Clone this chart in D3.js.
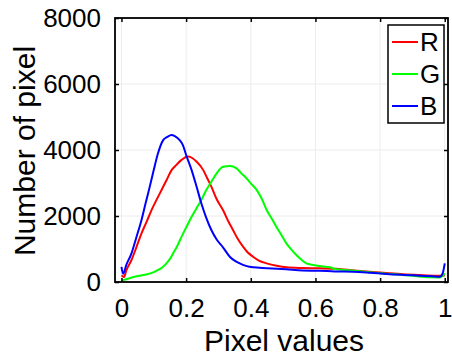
<!DOCTYPE html>
<html><head><meta charset="utf-8">
<script src="https://cdn.jsdelivr.net/npm/d3@7"></script>
<style>body{margin:0;background:#fff}svg{display:block}text{font-family:"Liberation Sans",Arial,sans-serif;fill:#000}</style>
</head><body>
<script>
const xTicks = [0, 0.2, 0.4, 0.6, 0.8, 1];
const xTickLabels = ["0", "0.2", "0.4", "0.6", "0.8", "1"];
const yTicks = [0, 2000, 4000, 6000, 8000];
const yTickLabels = ["0", "2000", "4000", "6000", "8000"];
const seriesNames = ["R", "G", "B"];
const seriesColors = ["#ff0000", "#00ff00", "#0000ff"];

const redX = [0,0.008,0.015,0.031,0.046,0.062,0.078,0.093,0.108,0.124,0.14,0.155,0.17,0.186,0.206,0.22,0.232,0.253,0.265,0.278,0.295,0.314,0.33,0.345,0.36,0.376,0.39,0.407,0.425,0.449,0.48,0.51,0.56,0.613,0.665,0.72,0.768,0.82,0.871,0.92,0.974,1.0];
const redY = [200,150,350,667,1050,1475,1830,2180,2480,2790,3100,3390,3550,3700,3800,3750,3650,3390,3150,2890,2500,2180,1850,1575,1300,1070,900,767,650,565,490,445,425,415,400,350,312,270,233,210,192,200];

const greenX = [0,0.02,0.041,0.06,0.082,0.1,0.113,0.127,0.139,0.15,0.16,0.173,0.186,0.2,0.217,0.232,0.247,0.262,0.278,0.295,0.314,0.335,0.356,0.37,0.387,0.4,0.418,0.435,0.449,0.465,0.479,0.495,0.51,0.525,0.541,0.556,0.572,0.59,0.613,0.644,0.665,0.72,0.768,0.82,0.871,0.92,0.954,0.985,1.0];
const greenY = [40,100,160,200,242,300,364,450,565,700,870,1100,1373,1650,1980,2230,2485,2780,3040,3300,3490,3515,3445,3300,3140,2990,2790,2500,2180,1920,1675,1420,1170,990,818,680,565,520,485,445,385,340,294,250,212,170,142,138,260];

const blueX = [0,0.005,0.015,0.031,0.046,0.062,0.075,0.0875,0.1,0.113,0.129,0.142,0.155,0.165,0.18,0.19,0.2,0.217,0.232,0.247,0.262,0.278,0.295,0.314,0.335,0.35,0.366,0.385,0.407,0.45,0.51,0.56,0.613,0.66,0.716,0.77,0.82,0.87,0.923,0.96,0.985,0.993,1.0];
const blueY = [460,250,520,870,1350,1880,2400,2890,3400,3900,4300,4400,4455,4420,4300,4150,3850,3390,2900,2385,1950,1575,1280,1050,767,650,565,490,445,420,385,350,340,320,312,280,242,215,192,175,161,250,565];

const W = 452, H = 363;
const L = 115, R = 448, T = 18, B = 282;
const svg = d3.select("body").append("svg").attr("width", W).attr("height", H);
const x = d3.scaleLinear().domain([-0.02, 1.01]).range([L, R]);
const y = d3.scaleLinear().domain([0, 8000]).range([B, T]);

// grid
const g = svg.append("g");
g.selectAll(".gx").data(xTicks).enter().append("line")
  .attr("x1", d => x(d)).attr("x2", d => x(d)).attr("y1", T).attr("y2", B)
  .attr("stroke", "#ececec").attr("stroke-width", 1);
g.selectAll(".gy").data(yTicks).enter().append("line")
  .attr("y1", d => y(d)).attr("y2", d => y(d)).attr("x1", L).attr("x2", R)
  .attr("stroke", "#ececec").attr("stroke-width", 1);

// series
const all = [[redX, redY], [greenX, greenY], [blueX, blueY]];
const line = d3.line().x(d => x(d[0])).y(d => y(d[1])).curve(d3.curveMonotoneX);
all.forEach((s, i) => {
  const pts = s[0].map((v, k) => [v, s[1][k]]);
  svg.append("path").attr("d", line(pts)).attr("fill", "none")
    .attr("stroke", seriesColors[i]).attr("stroke-width", 2).attr("stroke-linejoin", "round");
});

// axes with inner ticks
const tl = 4;
const xb = svg.append("g").attr("transform", `translate(0,${B})`)
  .call(d3.axisBottom(x).tickValues(xTicks).tickFormat((d, i) => xTickLabels[i]).tickSizeInner(-tl).tickSizeOuter(0).tickPadding(17));
const xt = svg.append("g").attr("transform", `translate(0,${T})`)
  .call(d3.axisTop(x).tickValues(xTicks).tickFormat("").tickSizeInner(-tl).tickSizeOuter(0));
const yl = svg.append("g").attr("transform", `translate(${L},0)`)
  .call(d3.axisLeft(y).tickValues(yTicks).tickFormat((d, i) => yTickLabels[i]).tickSizeInner(-tl).tickSizeOuter(0).tickPadding(14));
const yr = svg.append("g").attr("transform", `translate(${R},0)`)
  .call(d3.axisRight(y).tickValues(yTicks).tickFormat("").tickSizeInner(-tl).tickSizeOuter(0));
[xb, xt, yl, yr].forEach(a => {
  a.select(".domain").remove();
  a.selectAll(".tick line").attr("stroke", "#000").attr("stroke-width", 1.5);
  a.selectAll("text").style("font-size", "26px").style("font-family", "'Liberation Sans', Arial, sans-serif").attr("fill", "#000");
});
xb.selectAll("text").attr("dy", "0.71em");

svg.append("rect").attr("x", L).attr("y", T).attr("width", R - L).attr("height", B - T)
  .attr("fill", "none").attr("stroke", "#000").attr("stroke-width", 1.8);

// titles
svg.append("text").attr("x", 284).attr("y", 351).attr("text-anchor", "middle")
  .style("font-size", "30px").text("Pixel values");
svg.append("text").attr("transform", `translate(35,${(T + B) / 2 + 1}) rotate(-90)`).attr("text-anchor", "middle")
  .style("font-size", "30px").text("Number of pixel");

// legend
const lg = svg.append("g");
lg.append("rect").attr("x", 388).attr("y", 25).attr("width", 56).attr("height", 98)
  .attr("fill", "#fff").attr("stroke", "#000").attr("stroke-width", 1.5);
seriesNames.forEach((n, i) => {
  const yy = 42 + i * 32;
  lg.append("line").attr("x1", 392).attr("x2", 418).attr("y1", yy).attr("y2", yy)
    .attr("stroke", seriesColors[i]).attr("stroke-width", 2);
  lg.append("text").attr("x", 420).attr("y", yy).attr("dy", "0.36em")
    .style("font-size", "26px").text(n);
});
</script>
</body></html>
